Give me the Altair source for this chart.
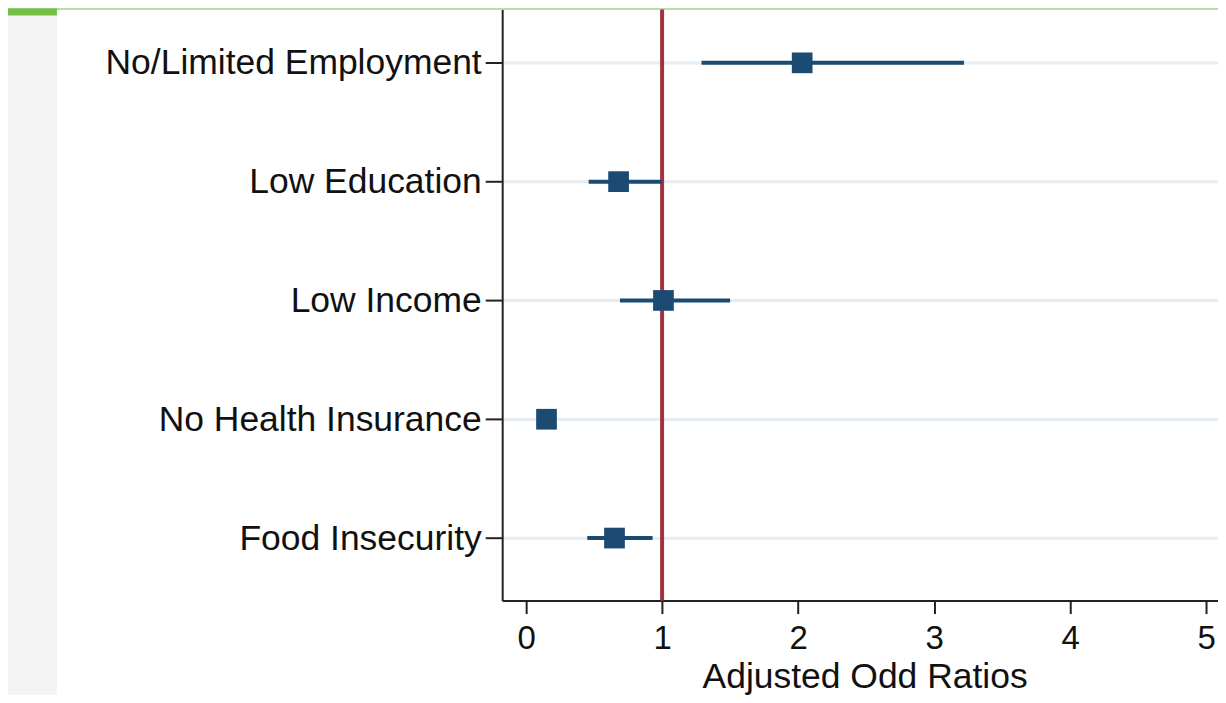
import altair as alt
import pandas as pd

labels = ["No/Limited Employment", "Low Education", "Low Income",
          "No Health Insurance", "Food Insecurity"]
aor = [2.03, 0.68, 1.01, 0.15, 0.65]
ci_low = [1.29, 0.46, 0.69, 0.09, 0.45]
ci_high = [3.22, 1.00, 1.50, 0.21, 0.93]
ref_value = [1]
x_ticks = [0, 1, 2, 3, 4, 5]

df = pd.DataFrame({"label": labels, "aor": aor, "lo": ci_low, "hi": ci_high})
ref = pd.DataFrame({"ref": ref_value})

FONT = "Liberation Sans"
W, H = 717, 592
XDOM = [-0.176, 5.088]

xscale = alt.Scale(domain=XDOM, nice=False, zero=False)
yscale = alt.Scale(type="point", domain=labels, padding=0.4874, align=0.46)

xaxis = alt.Axis(values=x_ticks, title="Adjusted Odd Ratios", grid=False,
                 labelFontSize=33, labelFont=FONT, labelColor="#111",
                 labelPadding=9, tickSize=13, tickWidth=2, tickColor="#222",
                 domainColor="#222", domainWidth=2, titleFont=FONT,
                 titleFontSize=35.5, titleFontWeight="normal", titleColor="#111",
                 titleX=363, titleY=87, titleBaseline="alphabetic",
                 titleAnchor="start", titleAlign="center", format="d")
yaxis = alt.Axis(title=None, grid=True, gridColor="#e6edf2", gridWidth=3,
                 labelFontSize=35.5, labelFont=FONT, labelColor="#111",
                 labelPadding=4, tickSize=17, tickWidth=2, tickColor="#222",
                 domainColor="#222", domainWidth=2, labelLimit=600)

# decorative frame (page background pieces)
frame = pd.DataFrame({"k": [0]})
gray = alt.Chart(frame).mark_rect(color="#f3f3f3").encode(
    x=alt.value(-495), x2=alt.value(-446), y=alt.value(-1), y2=alt.value(700))
green_top = alt.Chart(frame).mark_rect(color="#72bf44").encode(
    x=alt.value(-495), x2=alt.value(W + 10), y=alt.value(-1), y2=alt.value(0))
green_left = alt.Chart(frame).mark_rect(color="#72bf44").encode(
    x=alt.value(-495), x2=alt.value(-446), y=alt.value(-1), y2=alt.value(6))

base = alt.Chart(df)
axes_layer = base.mark_point(opacity=0).encode(
    x=alt.X("aor:Q", scale=xscale, axis=xaxis),
    y=alt.Y("label:N", scale=yscale, axis=yaxis, sort=labels))

refline = alt.Chart(ref).mark_rule(color="#a3323f", strokeWidth=4).encode(
    x=alt.X("ref:Q", scale=xscale))

ci = base.mark_rule(color="#1b4a73", strokeWidth=4).encode(
    x=alt.X("lo:Q", scale=xscale), x2="hi:Q",
    y=alt.Y("label:N", scale=yscale, sort=labels))

pts = base.mark_square(color="#1b4a73", opacity=1, size=430).encode(
    x=alt.X("aor:Q", scale=xscale),
    y=alt.Y("label:N", scale=yscale, sort=labels))

chart = alt.layer(gray, green_top, green_left, axes_layer, refline, ci, pts).properties(
    width=W, height=H,
    autosize=alt.AutoSizeParams(type="none"),
    padding={"left": 495, "top": 1, "right": 0, "bottom": 94},
    background="white",
).configure_view(stroke=None)

chart.save("out.html", embed_options={"renderer": "svg", "actions": False})
